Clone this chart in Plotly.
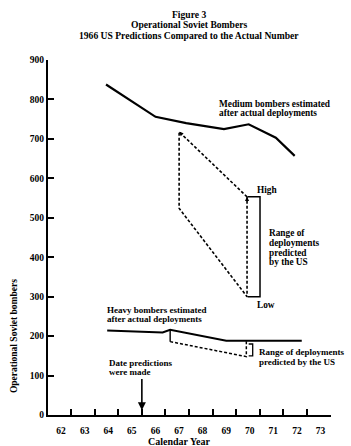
import plotly.graph_objects as go

# ---- data -------------------------------------------------------------
years = list(range(62, 74))
tick_offset = 0.42  # tick marks sit a little right of each year label

# medium bombers estimated after actual deployments
medium_x = [63.9, 66.0, 67.3, 68.9, 69.95, 71.1, 71.9]
medium_y = [838, 756, 740, 725, 737, 703, 657]

# 1966 projections for medium bombers
med_pred_start_x = 67.0
med_pred_high = [718, 553]
med_pred_low = [524, 300]
med_pred_end_x = 69.88

# heavy bombers estimated after actual deployments
heavy_x = [63.95, 66.3, 66.62, 69.0, 72.2]
heavy_y = [214, 209, 216, 188, 188]

# 1966 projection for heavy bombers (lower edge of range)
heavy_pred_x = [66.62, 66.62, 69.85, 69.85]
heavy_pred_y = [216, 186, 148, 188]

prediction_year = 65.42

serif = "Liberation Serif"
BLACK = "black"

# pixel geometry of the plotting area (used to place multi-line notes)
PX_PER_UNIT = 355 / 900
Y0_PX = 415


def val_from_px(py):
    return (Y0_PX - py) / PX_PER_UNIT


fig = go.Figure()

# actual lines
fig.add_trace(go.Scatter(x=medium_x, y=medium_y, mode="lines",
                         line=dict(color=BLACK, width=2.2), hoverinfo="skip"))
fig.add_trace(go.Scatter(x=heavy_x, y=heavy_y, mode="lines",
                         line=dict(color=BLACK, width=2), hoverinfo="skip"))

# medium projections (dashed parallelogram)
dash = dict(color=BLACK, width=1.6, dash="3px,2px")
fig.add_trace(go.Scatter(x=[med_pred_end_x, med_pred_start_x, med_pred_start_x, med_pred_end_x, med_pred_end_x],
                         y=[med_pred_high[1], med_pred_high[0], med_pred_low[0], med_pred_low[1], med_pred_high[1]],
                         mode="lines", line=dash, hoverinfo="skip"))

# bracket for the predicted medium range
fig.add_trace(go.Scatter(x=[69.9, 70.43, 70.43, 69.9],
                         y=[med_pred_high[1], med_pred_high[1], med_pred_low[1], med_pred_low[1]],
                         mode="lines", line=dict(color=BLACK, width=1.5), hoverinfo="skip"))

# heavy projection
fig.add_trace(go.Scatter(x=heavy_pred_x[:2], y=heavy_pred_y[:2], mode="lines",
                         line=dict(color=BLACK, width=1.4), hoverinfo="skip"))
fig.add_trace(go.Scatter(x=heavy_pred_x[1:], y=heavy_pred_y[1:], mode="lines",
                         line=dict(color=BLACK, width=1.5, dash="3px,2px"), hoverinfo="skip"))
fig.add_trace(go.Scatter(x=[69.95, 70.12, 70.12, 69.95], y=[180, 180, 150, 150], mode="lines",
                         line=dict(color=BLACK, width=1.3), hoverinfo="skip"))


# small arrowheads on the projection lines
def head(x, y, fx, fy):
    fig.add_annotation(x=x, y=y, ax=x + (fx - x) * 0.06, ay=y + (fy - y) * 0.06,
                       xref="x", yref="y", axref="x", ayref="y", text="",
                       showarrow=True, arrowhead=2, arrowsize=0.7, arrowwidth=1.2,
                       arrowcolor=BLACK)


head(med_pred_start_x, med_pred_high[0], med_pred_end_x, med_pred_high[1])
head(med_pred_end_x, med_pred_high[1], med_pred_end_x, med_pred_low[1])

# date predictions were made
fig.add_annotation(x=prediction_year, y=12, ax=prediction_year, ay=95,
                   xref="x", yref="y", axref="x", ayref="y", text="",
                   showarrow=True, arrowhead=2, arrowsize=1, arrowwidth=1.6,
                   arrowcolor=BLACK)


def note(x, first_line_px, lines, size=9.3, spacing=9.8):
    """Left-aligned note, one annotation per line for tight leading."""
    for i, text in enumerate(lines):
        fig.add_annotation(x=x, y=val_from_px(first_line_px + i * spacing), xref="x", yref="y",
                           text=text, showarrow=False, xanchor="left", yanchor="middle",
                           font=dict(family=serif, size=size, color=BLACK, weight="bold"))


note(68.62, 103.5, ["Medium bombers estimated", "after actual deployments"])
note(70.23, 190, ["High"])
note(70.23, 305, ["Low"])
note(70.74, 233, ["Range of", "deployments", "predicted", "by the US"])
note(63.87, 309.5, ["Heavy bombers estimated", "after actual deployments"], size=9, spacing=9.5)
note(70.3, 352, ["Range of deployments", "predicted by the US"], size=9, spacing=9.5)
note(63.95, 362.5, ["Date predictions", "were made"], size=9, spacing=9.5)

# title
titles = [("Figure 3", 15), ("Operational Soviet Bombers", 25), ("1966 US Predictions Compared to the Actual Number", 35)]
for text, py in titles:
    fig.add_annotation(x=(189 - 48) / 283, y=1 + (60 - py) / 355, xref="paper", yref="paper",
                       text=text, showarrow=False, xanchor="center", yanchor="middle",
                       font=dict(family=serif, size=9.6, color=BLACK, weight="bold"))

# axis titles
fig.add_annotation(x=(14 - 48) / 283, y=200, xref="paper", yref="y", text="Operational Soviet bombers",
                   textangle=-90, showarrow=False, xanchor="center", yanchor="middle",
                   font=dict(family=serif, size=9.5, color=BLACK, weight="bold"))
fig.add_annotation(x=67.0, y=(415 - 442) / 355, xref="x", yref="paper", text="Calendar Year",
                   showarrow=False, xanchor="center", yanchor="middle",
                   font=dict(family=serif, size=10, color=BLACK, weight="bold"))

tickfont = dict(family=serif, size=9.5, color=BLACK, weight="bold")
fig.update_xaxes(range=[61.44, 73.44], showgrid=False, zeroline=False, automargin=False,
                 showline=True, linecolor=BLACK, linewidth=2,
                 ticks="inside", ticklen=6, tickwidth=1.5, tickcolor=BLACK,
                 tickvals=[y + tick_offset for y in years], ticktext=[str(y) for y in years],
                 ticklabelshift=-10, ticklabelstandoff=6, tickfont=tickfont)
fig.update_yaxes(range=[0, 900], showgrid=False, zeroline=False, automargin=False,
                 showline=True, linecolor=BLACK, linewidth=2,
                 ticks="inside", ticklen=6, tickwidth=1.5, tickcolor=BLACK,
                 tickvals=list(range(0, 1000, 100)), tickfont=tickfont)

fig.update_layout(width=351, height=446, margin=dict(l=48, r=20, t=60, b=31),
                  paper_bgcolor="white", plot_bgcolor="white", showlegend=False)

fig.write_html("out.html")
